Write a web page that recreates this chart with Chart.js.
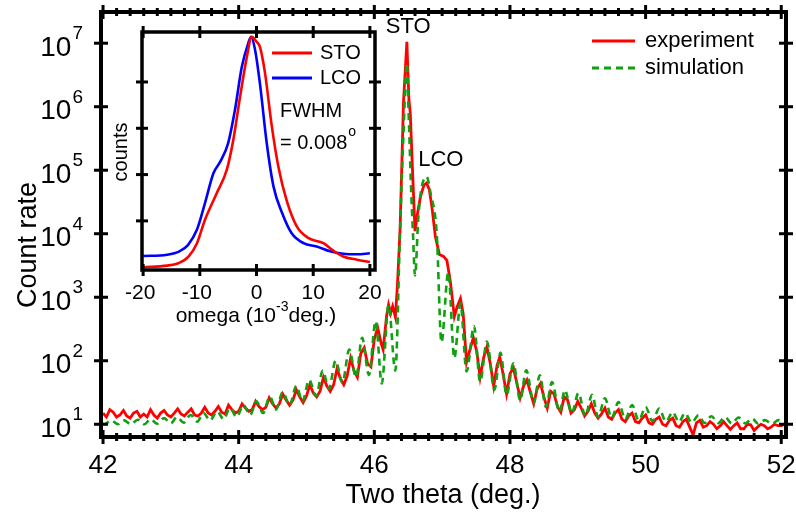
<!DOCTYPE html>
<html>
<head>
<meta charset="utf-8">
<script src="https://cdn.jsdelivr.net/npm/chart.js@4.4.0/dist/chart.umd.min.js"></script>
<style>
  html, body { margin: 0; padding: 0; background: #fff; }
  #wrap { position: relative; width: 796px; height: 514px; }
  #wrap canvas { position: absolute; left: 0; top: 0; }
</style>
</head>
<body>
<div id="wrap">
  <canvas id="main" width="796" height="514"></canvas>
  <canvas id="inset" width="796" height="514"></canvas>
</div>
<script>
'use strict';

// main plot: two theta scan (log count rate)
var expX = [42.00,42.05,42.10,42.15,42.20,42.25,42.30,42.35,42.40,42.45,42.50,42.55,42.60,42.65,42.70,42.75,42.80,42.85,42.90,42.95,
  43.00,43.05,43.10,43.15,43.20,43.25,43.30,43.35,43.40,43.45,43.50,43.55,43.60,43.65,43.70,43.75,43.80,43.85,43.90,43.95,
  44.00,44.05,44.10,44.15,44.20,44.25,44.30,44.35,44.40,44.45,44.50,44.55,44.60,44.65,44.70,44.75,44.80,44.85,44.90,44.95,
  45.00,45.05,45.10,45.15,45.20,45.25,45.30,45.35,45.40,45.45,45.50,45.55,45.60,45.65,45.70,45.75,45.80,45.85,45.90,45.95,
  46.00,46.05,46.10,46.13,46.18,46.21,46.24,46.27,46.31,46.34,46.38,46.43,46.48,46.51,46.53,46.56,46.60,46.64,46.68,46.73,
  46.77,46.81,46.85,46.90,46.96,47.02,47.07,47.12,47.18,47.22,47.27,47.31,47.36,47.41,47.46,47.51,47.56,47.61,47.66,47.71,
  47.76,47.81,47.85,47.90,47.95,
  48.00,48.05,48.10,48.15,48.20,48.25,48.30,48.35,48.40,48.45,48.50,48.55,48.60,48.65,48.70,48.75,48.80,48.85,48.90,48.95,
  49.00,49.05,49.10,49.15,49.20,49.25,49.30,49.35,49.40,49.45,49.50,49.55,49.60,49.65,49.70,49.75,49.80,49.85,49.90,49.95,
  50.00,50.05,50.10,50.15,50.20,50.25,50.30,50.35,50.40,50.45,50.50,50.55,50.60,50.65,50.70,50.75,50.80,50.85,50.90,50.95,
  51.00,51.05,51.10,51.15,51.20,51.25,51.30,51.35,51.40,51.45,51.50,51.55,51.60,51.65,51.70,51.75,51.80,51.85,51.90,51.95,
  52.00,52.05];
var expY = [15,13,17,15.5,13,14,16.5,13.5,12.5,15,16,13,14.5,13,17,14,12.5,15,16.5,14,
  13,15,17.5,14.5,13.5,15.5,17.5,14,13.5,15,18.5,15,14,16,19,15.5,14.5,20,17,15,
  16,21,18,16,17,23,19,17,18.5,26,21,18,21,30,24,20,24,35,27,22,
  28,42,31,27,33,55,40,33,42,75,52,42,58,110,70,55,130,160,90,80,
  220,330,190,150,500,760,560,720,490,1500,12000,1200000,10500000,1300000,800000,120000,11000,22000,38000,58000,
  63000,50000,26000,9000,4700,4400,3800,1800,500,700,950,550,95,150,230,140,55,110,165,90,
  40,85,115,60,30,
  62,78,45,26,40,50,32,21,36,44,27,18,33,30,19,15.5,27,24,15,17,
  23,18,13.5,16,21,15,12.5,14.5,18,13,12,15,17,12,11,13.5,15,11,10.5,12.5,
  14,10.5,10,12,13,10,9.5,11.5,12.5,9.5,9,11,12,9,6.8,10.5,11.5,9,9.5,11,
  10,8.5,9.5,11,9.5,8.3,9.5,10.5,8.5,8.5,10,9.8,8,9,10,9.5,8.5,9,10,9.5,
  9.5,10];

var simX = [42.00,42.02,42.12,42.22,42.31,42.41,42.51,42.61,42.70,42.80,42.90,43.00,43.09,43.19,43.29,43.39,43.48,43.58,43.68,43.78,
  43.87,43.97,44.07,44.17,44.26,44.36,44.46,44.55,44.65,44.75,44.85,44.94,45.04,45.14,45.24,45.33,45.43,45.53,45.63,45.73,
  45.82,45.92,46.02,46.11,46.21,46.31,46.38,46.43,46.48,46.50,46.54,46.57,46.60,46.65,46.70,46.77,46.83,46.92,46.99,47.09,
  47.18,47.27,47.36,47.47,47.56,47.66,47.77,47.86,47.95,48.05,48.15,48.24,48.35,48.44,48.53,48.62,48.73,48.81,48.91,49.01,
  49.11,49.21,49.30,49.40,49.50,49.60,49.70,49.80,49.90,50.00,50.10,50.20,50.30,50.40,50.49,50.58,50.68,50.78,50.87,50.97,
  51.07,51.17,51.27,51.37,51.47,51.57,51.66,51.76,51.86,51.96,52.05];
var simY = [10.4,10.0,11.5,10.0,11.5,10.0,11.8,10.0,12,10.2,12.5,10.3,13,10.6,14,11,15,11.5,16,12,
  18,13,20,14,23,15,27,17,32,20,40,23,50,28,70,36,100,45,150,55,
  230,60,420,44,750,70,12000,380000,4900000,1250000,60000,10000,2200,19000,55000,79000,43000,10000,195,2450,
  110,800,68,350,47,200,35,133,29,91,24,71,21.5,59,18.7,46,15.6,34.5,14.9,31,
  13.5,29,13,25.6,12.5,22.4,12,20,11.5,18.7,11.2,17.7,11,15.6,10.8,15,10.6,13.9,10.5,13.4,
  10.4,13,10.3,12.8,10.3,12.3,10.2,11.6,10.2,11.6,10.5];

var mainXTicks = [42, 44, 46, 48, 50, 52];
var mainYExp = [1, 2, 3, 4, 5, 6, 7];

// inset: rocking curves
var stoX = [-20,-15.8,-13.8,-12,-10.5,-9.1,-7,-5.25,-4.1,-2.9,-1.7,-0.85,0,0.6,1.5,2.7,3.85,5.3,7.1,9.1,11.8,13.5,15.3,17.7,20];
var stoY = [1.0,1.08,1.22,1.7,3.3,10.5,40,126,560,4800,35000,95000,74000,57000,15500,1100,150,28,7.6,4.3,3.3,2.3,1.7,1.45,1.3];
var lcoX = [-20,-15.8,-13.6,-12.1,-10.5,-9.1,-7.6,-6.4,-5,-3.8,-2.6,-1.45,-0.95,-0.25,0.6,1.8,3,4.5,6.2,8.3,10.6,13,15.3,17.7,20];
var lcoY = [1.74,1.86,2.2,3.0,6.5,24,107,190,480,2500,21000,69000,95000,49000,9300,480,55,15,5.4,3.3,2.8,2.2,1.95,1.9,2.0];
var insetXTicks = [-20, -10, 0, 10, 20];
var insetYTicks = [10, 100, 1000, 10000];

var FONT = '"Liberation Sans", Arial, sans-serif';

function pairs(xs, ys) {
  return xs.map(function(x, i) { return { x: x, y: ys[i] }; });
}

function seg(ctx, x1, y1, x2, y2) {
  ctx.beginPath();
  ctx.moveTo(x1, y1);
  ctx.lineTo(x2, y2);
  ctx.stroke();
}

var mainDeco = {
  id: 'mainDeco',
  beforeDraw: function(chart) {
    var ctx = chart.ctx;
    ctx.save();
    ctx.fillStyle = '#fff';
    ctx.fillRect(0, 0, chart.width, chart.height);
    ctx.restore();
  },
  afterDraw: function(chart) {
    var ctx = chart.ctx, a = chart.chartArea;
    var xs = chart.scales.x, ys = chart.scales.y;
    ctx.save();
    ctx.strokeStyle = '#000';
    ctx.lineWidth = 4;
    ctx.strokeRect(a.left, a.top, a.right - a.left, a.bottom - a.top);

    // x ticks, minor every 0.2
    ctx.lineWidth = 3;
    for (var i = 0; i <= 50; i++) {
      var px = xs.getPixelForValue(42 + i * 0.2);
      var len = (i % 10 === 0) ? 7 : 4;
      seg(ctx, px, a.bottom - len, px, a.bottom + len);
      seg(ctx, px, a.top - len, px, a.top + len);
    }
    // y ticks at decades
    mainYExp.forEach(function(e) {
      var py = ys.getPixelForValue(Math.pow(10, e));
      seg(ctx, a.left - 7, py, a.left + 7, py);
      seg(ctx, a.right - 7, py, a.right + 7, py);
    });

    ctx.fillStyle = '#000';
    ctx.textBaseline = 'middle';
    ctx.textAlign = 'center';
    ctx.font = '26px ' + FONT;
    mainXTicks.forEach(function(v) {
      ctx.fillText(String(v), xs.getPixelForValue(v), 466);
    });
    ctx.font = '27px ' + FONT;
    ctx.fillText('Two theta (deg.)', 443, 496);

    mainYExp.forEach(function(e) {
      var py = ys.getPixelForValue(Math.pow(10, e));
      ctx.textAlign = 'right';
      ctx.font = '19px ' + FONT;
      var sw = ctx.measureText(String(e)).width;
      ctx.fillText(String(e), 83, py - 9);
      ctx.font = '28px ' + FONT;
      ctx.fillText('10', 82 - sw, py + 5);
    });

    ctx.save();
    ctx.translate(29, 245);
    ctx.rotate(-Math.PI / 2);
    ctx.textAlign = 'center';
    ctx.font = '27px ' + FONT;
    ctx.fillText('Count rate', 0, 0);
    ctx.restore();

    // peak labels
    ctx.textAlign = 'center';
    ctx.font = '22px ' + FONT;
    ctx.fillText('STO', xs.getPixelForValue(46.5), 27);
    ctx.fillText('LCO', xs.getPixelForValue(46.98), 160);

    // legend
    ctx.lineWidth = 3;
    ctx.strokeStyle = '#ff0000';
    seg(ctx, 592, 41, 635, 41);
    ctx.strokeStyle = '#10a010';
    ctx.setLineDash([7, 5]);
    seg(ctx, 592, 68, 635, 68);
    ctx.setLineDash([]);
    ctx.textAlign = 'left';
    ctx.font = '22px ' + FONT;
    ctx.fillText('experiment', 645, 41);
    ctx.fillText('simulation', 645, 68);
    ctx.restore();
  }
};

var insetDeco = {
  id: 'insetDeco',
  afterDraw: function(chart) {
    var ctx = chart.ctx, a = chart.chartArea;
    var xs = chart.scales.x, ys = chart.scales.y;
    ctx.save();
    ctx.strokeStyle = '#000';
    ctx.lineWidth = 3.5;
    ctx.strokeRect(a.left, a.top, a.right - a.left, a.bottom - a.top);
    ctx.lineWidth = 3;
    insetXTicks.forEach(function(v) {
      var px = xs.getPixelForValue(v);
      seg(ctx, px, a.bottom - 6, px, a.bottom + 6);
      seg(ctx, px, a.top - 6, px, a.top + 6);
    });
    insetYTicks.forEach(function(v) {
      var py = ys.getPixelForValue(v);
      seg(ctx, a.left - 6, py, a.left + 6, py);
      seg(ctx, a.right - 6, py, a.right + 6, py);
    });

    ctx.fillStyle = '#000';
    ctx.textBaseline = 'middle';
    ctx.textAlign = 'center';
    ctx.font = '21px ' + FONT;
    insetXTicks.forEach(function(v) {
      ctx.fillText(String(v), xs.getPixelForValue(v) - (v < 0 ? 3 : 0), 293);
    });

    // omega (10^-3 deg.)
    var t1 = 'omega (10', t2 = '-3', t3 = 'deg.)';
    ctx.font = '21px ' + FONT;
    var w1 = ctx.measureText(t1).width, w3 = ctx.measureText(t3).width;
    ctx.font = '14px ' + FONT;
    var w2 = ctx.measureText(t2).width;
    var x0 = 256 - (w1 + w2 + w3) / 2;
    ctx.textAlign = 'left';
    ctx.font = '21px ' + FONT;
    ctx.fillText(t1, x0, 316);
    ctx.fillText(t3, x0 + w1 + w2, 316);
    ctx.font = '14px ' + FONT;
    ctx.fillText(t2, x0 + w1, 307);

    ctx.save();
    ctx.translate(121, 152);
    ctx.rotate(-Math.PI / 2);
    ctx.textAlign = 'center';
    ctx.font = '20px ' + FONT;
    ctx.fillText('counts', 0, 0);
    ctx.restore();

    // legend
    ctx.lineWidth = 3;
    ctx.strokeStyle = '#ff0000';
    seg(ctx, 272, 53, 312, 53);
    ctx.strokeStyle = '#0000ff';
    seg(ctx, 272, 78, 312, 78);
    ctx.textAlign = 'left';
    ctx.font = '20px ' + FONT;
    ctx.fillText('STO', 320, 53);
    ctx.fillText('LCO', 320, 78);
    ctx.fillText('FWHM', 280, 111);
    ctx.fillText('= 0.008', 280, 143);
    var wd = ctx.measureText('= 0.008').width;
    ctx.font = '14px ' + FONT;
    ctx.fillText('o', 281 + wd, 132);
    ctx.restore();
  }
};

function hiddenScales(xmin, xmax, ymin, ymax) {
  return {
    x: { type: 'linear', min: xmin, max: xmax, display: false },
    y: { type: 'logarithmic', min: ymin, max: ymax, display: false }
  };
}

new Chart(document.getElementById('main'), {
  type: 'line',
  data: {
    datasets: [{
      label: 'simulation',
      data: pairs(simX, simY),
      borderColor: '#10a010',
      borderWidth: 2.6,
      borderDash: [7, 5],
      cubicInterpolationMode: 'monotone',
      pointRadius: 0,
      fill: false
    }, {
      label: 'experiment',
      data: pairs(expX, expY),
      borderColor: '#ff0000',
      borderWidth: 2.8,
      tension: 0,
      pointRadius: 0,
      fill: false
    }]
  },
  options: {
    responsive: false,
    animation: false,
    devicePixelRatio: 1,
    layout: { padding: { left: 101, right: 10, top: 12, bottom: 77 } },
    scales: hiddenScales(41.97, 52.07, 6.3, 3.1e7),
    plugins: { legend: { display: false }, tooltip: { enabled: false } }
  },
  plugins: [mainDeco]
});

new Chart(document.getElementById('inset'), {
  type: 'line',
  data: {
    datasets: [{
      label: 'STO',
      data: pairs(stoX, stoY),
      borderColor: '#ff0000',
      borderWidth: 2.6,
      cubicInterpolationMode: 'monotone',
      pointRadius: 0,
      fill: false
    }, {
      label: 'LCO',
      data: pairs(lcoX, lcoY),
      borderColor: '#0000ff',
      borderWidth: 2.6,
      cubicInterpolationMode: 'monotone',
      pointRadius: 0,
      fill: false
    }]
  },
  options: {
    responsive: false,
    animation: false,
    devicePixelRatio: 1,
    layout: { padding: { left: 142, right: 421, top: 32, bottom: 244 } },
    scales: hiddenScales(-20.2, 20.9, 0.87, 1.2e5),
    plugins: { legend: { display: false }, tooltip: { enabled: false } }
  },
  plugins: [insetDeco]
});
</script>
</body>
</html>
